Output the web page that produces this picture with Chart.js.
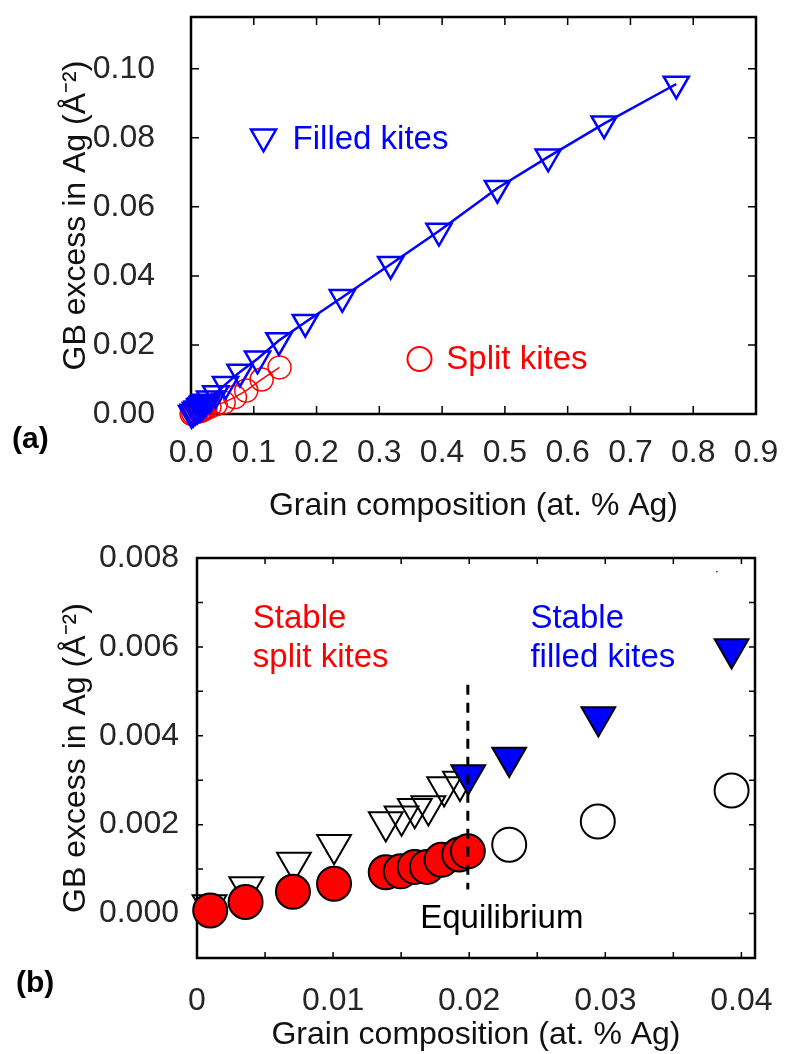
<!DOCTYPE html>
<html>
<head>
<meta charset="utf-8">
<title>GB excess in Ag vs grain composition</title>
<script src="https://cdn.jsdelivr.net/npm/chart.js@4.4.1/dist/chart.umd.min.js"></script>
<style>
  html, body { margin: 0; padding: 0; background: #fff; }
  canvas { display: block; }
</style>
</head>
<body>
<canvas id="chartA" width="788" height="525"></canvas>
<canvas id="chartB" width="788" height="529"></canvas>
<script>
// ---- panel (a): whole composition range ----
const filledKitesX = [0.00092, 0.00362, 0.00712, 0.01007, 0.01387, 0.01503, 0.0160, 0.0170, 0.01816, 0.01932,
  0.01993, 0.02294, 0.02949, 0.03928, 0.055, 0.078, 0.106, 0.140, 0.182, 0.241, 0.318, 0.395, 0.488, 0.569, 0.658, 0.773];
const filledKitesY = [0.00019, 0.00060, 0.00115, 0.00155, 0.00206, 0.00219, 0.00236, 0.00242, 0.00285, 0.00297,
  0.00312, 0.00351, 0.00442, 0.00595, 0.0086, 0.0122, 0.0160, 0.0213, 0.0266, 0.0338, 0.0434, 0.0530, 0.0654, 0.0745, 0.0841, 0.0956];

const splitKitesX = [0.00097, 0.00357, 0.00705, 0.01007, 0.01387, 0.01497, 0.0160, 0.0169, 0.01797, 0.01927,
  0.0199, 0.02294, 0.02945, 0.03928, 0.052, 0.070, 0.088, 0.1125, 0.141];
const splitKitesY = [0.00007, 0.00026, 0.00049, 0.00067, 0.00093, 0.00095, 0.00105, 0.00105, 0.00121, 0.00133,
  0.00140, 0.00155, 0.00207, 0.00277, 0.0033, 0.0049, 0.0068, 0.0100, 0.0135];

// ---- panel (b): dilute end ----
const stableSplitX = [0.00097, 0.00357, 0.00705, 0.01007, 0.01387, 0.01497, 0.0160, 0.0169, 0.01797, 0.01927, 0.0199];
const stableSplitY = [0.00007, 0.00026, 0.00049, 0.00067, 0.00093, 0.00095, 0.00105, 0.00105, 0.00121, 0.00133, 0.00140];

const unstableFilledX = [0.00092, 0.00362, 0.00712, 0.01007, 0.01387, 0.01503, 0.0160, 0.0170, 0.01816, 0.01932];
const unstableFilledY = [0.00019, 0.00060, 0.00115, 0.00155, 0.00206, 0.00219, 0.00236, 0.00242, 0.00285, 0.00297];

const stableFilledX = [0.01993, 0.02294, 0.02949, 0.03928];
const stableFilledY = [0.00312, 0.00351, 0.00442, 0.00595];

const unstableSplitX = [0.02294, 0.02945, 0.03928];
const unstableSplitY = [0.00155, 0.00207, 0.00277];

const strayX = [0.0382];
const strayY = [0.00769];

const equilibriumX = 0.0199;
const equilibriumY = [0.00515, 0.00054];

// tick values
const ticksAX = { min: 0, max: 0.9, step: 0.1 };
const ticksAY = { min: 0, max: 0.115, step: 0.02 };
const ticksBX = { min: 0, max: 0.041, step: 0.005 };
const ticksBY = { min: -0.001, max: 0.008, step: 0.001 };

const FONT = "'Liberation Sans', Arial, sans-serif";
const TICK_COLOR = '#262626';

const pts = (xs, ys) => xs.map((x, i) => ({ x, y: ys[i] }));

// box around the plot with inward tick marks
const framePlugin = {
  id: 'frame',
  beforeDatasetsDraw(chart, args, opts) {
    const { ctx, chartArea: a, scales } = chart;
    const len = opts.tickLength;
    ctx.save();
    ctx.strokeStyle = '#000';
    ctx.lineWidth = 1.5;
    ctx.beginPath();
    scales.x.ticks.forEach(t => {
      const px = scales.x.getPixelForValue(t.value);
      ctx.moveTo(px, a.bottom); ctx.lineTo(px, a.bottom - len);
      ctx.moveTo(px, a.top); ctx.lineTo(px, a.top + len);
    });
    scales.y.ticks.forEach(t => {
      const py = scales.y.getPixelForValue(t.value);
      ctx.moveTo(a.left, py); ctx.lineTo(a.left + len, py);
      ctx.moveTo(a.right, py); ctx.lineTo(a.right - len, py);
    });
    ctx.stroke();
    ctx.lineWidth = 2.5;
    ctx.strokeRect(a.left, a.top, a.right - a.left, a.bottom - a.top);
    ctx.restore();
  }
};

// text labels and the little key markers
const notesPlugin = {
  id: 'notes',
  afterDraw(chart, args, opts) {
    const { ctx, scales: { x, y } } = chart;
    ctx.save();
    (opts.items || []).forEach(n => {
      const px = x.getPixelForValue(n.x);
      const py = y.getPixelForValue(n.y);
      ctx.strokeStyle = n.color;
      ctx.fillStyle = n.color;
      if (n.marker === 'triangle') {
        const r = n.size;
        ctx.lineWidth = 2.5;
        ctx.beginPath();
        ctx.moveTo(px, py + r);
        ctx.lineTo(px + r * Math.sin(Math.PI / 3), py - r / 2);
        ctx.lineTo(px - r * Math.sin(Math.PI / 3), py - r / 2);
        ctx.closePath();
        ctx.stroke();
      } else if (n.marker === 'circle') {
        ctx.lineWidth = 2;
        ctx.beginPath();
        ctx.arc(px, py, n.size, 0, Math.PI * 2);
        ctx.stroke();
      } else {
        ctx.font = `${n.fontSize || 33}px ${FONT}`;
        ctx.textBaseline = 'alphabetic';
        ctx.textAlign = 'left';
        ctx.fillText(n.text, px, py);
      }
    });
    if (opts.panel) {
      ctx.fillStyle = '#000';
      ctx.font = `bold 30px ${FONT}`;
      ctx.textBaseline = 'alphabetic';
      ctx.textAlign = 'left';
      ctx.fillText(opts.panel.text, opts.panel.left, opts.panel.baseline);
    }
    ctx.restore();
  }
};

function axis(range, fmt, pad, fit, title, titlePad) {
  return {
    type: 'linear',
    min: range.min,
    max: range.max,
    grid: { display: false },
    border: { display: false },
    ticks: {
      stepSize: range.step,
      includeBounds: false,
      autoSkip: false,
      maxRotation: 0,
      minRotation: 0,
      padding: pad,
      color: TICK_COLOR,
      font: { family: FONT, size: 32 },
      callback: fmt
    },
    title: {
      display: true,
      text: title,
      color: '#111',
      font: { family: FONT, size: 32 },
      padding: { top: titlePad, bottom: 0 }
    },
    afterFit: fit
  };
}

// fixed box sizes so the plot frames land where the figure has them
const fitX = h => s => { s.height = h; s.paddingLeft = 0; s.paddingRight = 0; };
const fitY = w => s => { s.width = w; s.paddingTop = 0; s.paddingBottom = 0; };

const yTitle = 'GB excess in Ag (\u00C5\u207B\u00B2)';
const xTitle = 'Grain composition (at. % Ag)';

new Chart(document.getElementById('chartA'), {
  type: 'scatter',
  data: {
    datasets: [
      {
        label: 'Filled kites',
        data: pts(filledKitesX, filledKitesY),
        showLine: true,
        borderColor: '#0000ff',
        borderWidth: 2.5,
        backgroundColor: 'rgba(0,0,0,0)',
        pointStyle: 'triangle',
        rotation: 180,
        pointRadius: 14.5,
        pointBorderWidth: 2.5,
        clip: false
      },
      {
        label: 'Split kites',
        data: pts(splitKitesX, splitKitesY),
        showLine: true,
        borderColor: '#ff0000',
        borderWidth: 1.5,
        backgroundColor: 'rgba(0,0,0,0)',
        pointStyle: 'circle',
        pointRadius: 11.5,
        pointBorderWidth: 1.5,
        clip: false
      }
    ]
  },
  options: {
    responsive: false,
    animation: false,
    devicePixelRatio: 1,
    layout: { padding: { top: 14, right: 32, left: 0, bottom: 0 } },
    scales: {
      x: axis(ticksAX, v => v.toFixed(1), 12, fitX(111), xTitle, 13),
      y: axis(ticksAY, v => v.toFixed(2), 28, fitY(191), yTitle, 57)
    },
    plugins: {
      legend: { display: false },
      tooltip: { enabled: false },
      frame: { tickLength: 8 },
      notes: {
        items: [
          { marker: 'triangle', x: 0.1155, y: 0.0803, size: 14.5, color: '#0000ff' },
          { text: 'Filled kites', x: 0.1618, y: 0.0767, color: '#0000ff' },
          { marker: 'circle', x: 0.364, y: 0.01595, size: 12, color: '#ff0000' },
          { text: 'Split kites', x: 0.4067, y: 0.0130, color: '#ff0000' }
        ],
        panel: { text: '(a)', left: 12, baseline: 448 }
      }
    }
  },
  plugins: [framePlugin, notesPlugin]
});

new Chart(document.getElementById('chartB'), {
  type: 'scatter',
  data: {
    datasets: [
      {
        label: 'Equilibrium',
        data: [{ x: equilibriumX, y: equilibriumY[0] }, { x: equilibriumX, y: equilibriumY[1] }],
        showLine: true,
        borderColor: '#000',
        borderWidth: 3,
        borderDash: [10, 8],
        pointRadius: 0,
        clip: false
      },
      {
        label: 'Stable filled kites',
        data: pts(stableFilledX, stableFilledY),
        pointStyle: 'triangle',
        rotation: 180,
        pointRadius: 19.5,
        pointBorderWidth: 2,
        borderColor: '#000',
        backgroundColor: '#0000ff',
        clip: false
      },
      {
        label: 'Unstable split kites',
        data: pts(unstableSplitX, unstableSplitY),
        pointStyle: 'circle',
        pointRadius: 17,
        pointBorderWidth: 2,
        borderColor: '#000',
        backgroundColor: 'rgba(0,0,0,0)',
        clip: false
      },
      {
        label: 'Stable split kites',
        data: pts(stableSplitX, stableSplitY),
        pointStyle: 'circle',
        pointRadius: 17,
        pointBorderWidth: 2,
        borderColor: '#000',
        backgroundColor: '#ff0000',
        clip: false
      },
      {
        label: 'Unstable filled kites',
        data: pts(unstableFilledX, unstableFilledY),
        pointStyle: 'triangle',
        rotation: 180,
        pointRadius: 19.5,
        pointBorderWidth: 2,
        borderColor: '#000',
        backgroundColor: 'rgba(0,0,0,0)',
        clip: false
      },
      {
        label: 'stray',
        data: pts(strayX, strayY),
        pointRadius: 0.8,
        pointBorderWidth: 0,
        backgroundColor: '#000'
      }
    ]
  },
  options: {
    responsive: false,
    animation: false,
    devicePixelRatio: 1,
    layout: { padding: { top: 33, right: 33, left: 0, bottom: 0 } },
    scales: {
      x: axis(ticksBX, v => {
        const k = Math.round(v / 0.005);
        if (k % 2) return '';
        return k === 0 ? '0' : (k * 0.005).toFixed(2);
      }, 16, fitX(96), xTitle, 2),
      y: axis(ticksBY, v => {
        const k = Math.round(v * 1000);
        return (k >= 0 && k % 2 === 0) ? (k / 1000).toFixed(3) : '';
      }, 10, fitY(197), yTitle, 57)
    },
    plugins: {
      legend: { display: false },
      tooltip: { enabled: false },
      frame: { tickLength: 6 },
      notes: {
        items: [
          { text: 'Stable', x: 0.0041, y: 0.00643, color: '#ff0000' },
          { text: 'split kites', x: 0.0041, y: 0.00555, color: '#ff0000' },
          { text: 'Stable', x: 0.0245, y: 0.00643, color: '#0000ff' },
          { text: 'filled kites', x: 0.0245, y: 0.00555, color: '#0000ff' },
          { text: 'Equilibrium', x: 0.0164, y: -0.00032, color: '#000' }
        ],
        panel: { text: '(b)', left: 16, baseline: 467 }
      }
    }
  },
  plugins: [framePlugin, notesPlugin]
});
</script>
</body>
</html>
